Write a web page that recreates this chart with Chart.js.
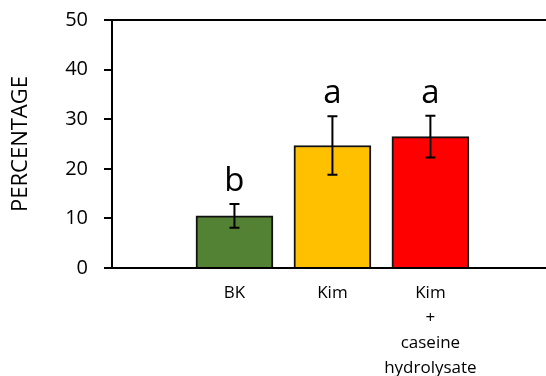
<!DOCTYPE html>
<html>
<head>
<meta charset="utf-8">
<script src="https://cdn.jsdelivr.net/npm/chart.js@4.4.1/dist/chart.umd.min.js"></script>
<style>
  html, body { margin: 0; padding: 0; background: #fff; }
  #wrap { width: 546px; height: 376px; position: relative; }
</style>
</head>
<body>
<div id="wrap"><canvas id="c" width="546" height="376"></canvas></div>
<script>
const categories = ['BK', 'Kim', ['Kim', '+', 'caseine', 'hydrolysate']];
const positions = [1, 2, 3];
const values = [10.5, 24.7, 26.5];
const errors = [2.4, 5.9, 4.2];
const letters = ['b', 'a', 'a'];
const colors = ['#548235', '#FFC000', '#FF0000'];
const yTicks = [0, 10, 20, 30, 40, 50];

const FONT = "'Open Sans', 'DejaVu Sans', sans-serif";

const extras = {
  id: 'extras',
  afterDatasetsDraw(chart) {
    const ctx = chart.ctx;
    const xs = chart.scales.x, ys = chart.scales.y;
    ctx.save();
    ctx.strokeStyle = '#000';
    ctx.lineWidth = 2;
    values.forEach((v, i) => {
      const x = xs.getPixelForValue(positions[i]);
      const yt = ys.getPixelForValue(v + errors[i]);
      const yb = ys.getPixelForValue(v - errors[i]);
      ctx.beginPath();
      ctx.moveTo(x, yt); ctx.lineTo(x, yb);
      ctx.moveTo(x - 5, yt); ctx.lineTo(x + 5, yt);
      ctx.moveTo(x - 5, yb); ctx.lineTo(x + 5, yb);
      ctx.stroke();
      ctx.fillStyle = '#000';
      ctx.font = '33px ' + FONT;
      ctx.textAlign = 'center';
      ctx.textBaseline = 'alphabetic';
      ctx.fillText(letters[i], x, yt - 13);
    });
    // top frame line
    const ca = chart.chartArea;
    ctx.beginPath();
    ctx.moveTo(ca.left, ca.top);
    ctx.lineTo(chart.width, ca.top);
    ctx.stroke();
    ctx.restore();
  }
};

new Chart(document.getElementById('c'), {
  type: 'bar',
  data: {
    datasets: [{
      data: positions.map((p, i) => ({ x: p, y: values[i] })),
      backgroundColor: colors,
      borderColor: '#111',
      borderWidth: 2,
      barThickness: 77
    }]
  },
  options: {
    responsive: false,
    animation: false,
    devicePixelRatio: 1,
    layout: { padding: { top: 20, right: 0, left: 0, bottom: 0 } },
    plugins: { legend: { display: false }, tooltip: { enabled: false } },
    scales: {
      x: {
        type: 'linear',
        offset: false,
        min: -0.25,
        max: 4.18,
        afterBuildTicks(scale) { scale.ticks = positions.map(v => ({ value: v })); },
        afterFit(scale) { scale.height = 108; scale.paddingLeft = 0; scale.paddingRight = 0; },
        grid: { display: false, offset: false },
        border: { display: true, color: '#000', width: 2 },
        ticks: {
          autoSkip: false,
          maxRotation: 0,
          padding: 5,
          color: '#000',
          font: { family: FONT, size: 17, lineHeight: 1.47 },
          callback: (v) => {
            const idx = positions.indexOf(v);
            return idx >= 0 ? categories[idx] : '';
          }
        }
      },
      y: {
        min: 0,
        max: 50,
        afterBuildTicks(scale) { scale.ticks = yTicks.map(v => ({ value: v })); },
        afterFit(scale) { scale.width = 112; scale.paddingTop = 0; scale.paddingBottom = 0; },
        grid: { drawOnChartArea: false, drawTicks: true, tickLength: 8, color: '#000', lineWidth: 2 },
        border: { display: true, color: '#000', width: 2 },
        ticks: {
          padding: 16,
          color: '#000',
          font: { family: FONT, size: 20 }
        },
        title: {
          display: true,
          text: 'PERCENTAGE',
          color: '#000',
          font: { family: FONT, size: 22 },
          padding: { top: 8, bottom: 0 }
        }
      }
    }
  },
  plugins: [extras]
});
</script>
</body>
</html>
